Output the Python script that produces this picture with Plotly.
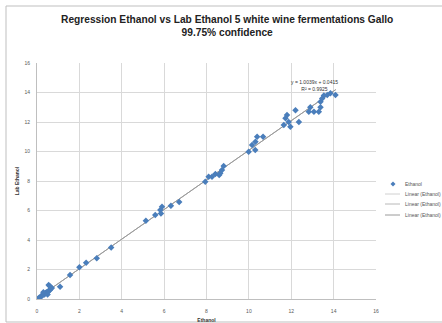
import plotly.graph_objects as go

# Reference ethanol (x) vs lab ethanol (y)
ethanol = [0.05, 0.1, 0.15, 0.2, 0.25, 0.3, 0.35, 0.4, 0.45, 0.5, 0.55, 0.6, 0.65, 0.7, 0.3, 0.5,
           0.55, 0.6, 1.09, 1.56, 2.0, 2.32, 2.82, 3.5, 5.14, 5.58, 5.82, 5.9, 5.85, 6.32, 6.71,
           7.94, 8.1, 8.26, 8.42, 8.6, 8.65, 8.73, 8.81, 9.99, 10.15, 10.3, 10.31, 10.39, 10.67,
           11.65, 11.73, 11.8, 11.88, 11.96, 12.2, 12.36, 12.83, 12.9, 13.07, 13.3, 13.38, 13.38,
           13.46, 13.54, 13.7, 13.85, 14.09]
lab_ethanol = [0.02, 0.08, 0.1, 0.2, 0.25, 0.3, 0.3, 0.4, 0.45, 0.45, 0.55, 0.6, 0.7, 0.75, 0.45, 0.3,
               0.95, 0.88, 0.83, 1.63, 2.15, 2.46, 2.76, 3.5, 5.31, 5.69, 6.03, 6.26, 5.8, 6.33, 6.58,
               7.95, 8.29, 8.29, 8.47, 8.4, 8.52, 8.75, 9.02, 9.99, 10.44, 10.1, 10.66, 11.0, 11.0,
               11.8, 12.25, 12.47, 12.0, 11.68, 12.8, 12.0, 12.7, 13.0, 12.7, 12.7, 13.0, 13.38,
               13.6, 13.8, 13.83, 13.95, 13.83]
slope = 1.0039
intercept = 0.0415
fit_x = [0.0, 14.1]
fit_y = [slope * v + intercept for v in fit_x]
x_ticks = [0, 2, 4, 6, 8, 10, 12, 14, 16]
y_ticks = [0, 2, 4, 6, 8, 10, 12, 14, 16]
legend_names = ["Ethanol", "Linear (Ethanol)", "Linear (Ethanol)", "Linear (Ethanol)"]
line_colors = ["#d0d0d0", "#b8b8b8", "#9a9a9a"]
marker_color = "#4a7ebb"

fig = go.Figure()
for col in line_colors:
    fig.add_trace(go.Scatter(x=fit_x, y=fit_y, mode="lines", showlegend=False,
                             line=dict(color=col, width=1)))
fig.add_trace(go.Scatter(x=ethanol, y=lab_ethanol, mode="markers", showlegend=False,
                         marker=dict(symbol="diamond", size=5, color=marker_color)))

# plot area in pixels: left 37, right 376, top 63, bottom 299
PL, PR, PT, PB = 37, 376, 63, 299
def px(xp):
    return (xp - PL) / (PR - PL)
def py(yp):
    return (PB - yp) / (PB - PT)

tick_font = dict(family="Liberation Sans", size=5, color="#595959")
fig.update_layout(
    width=442, height=323,
    margin=dict(l=PL, r=442 - PR, t=PT, b=323 - PB),
    paper_bgcolor="white", plot_bgcolor="white",
    showlegend=False,
    title=dict(text="<b>Regression Ethanol vs Lab Ethanol 5 white wine fermentations Gallo<br>99.75% confidence</b>",
               x=0.514, xanchor="center", y=0.929, yanchor="top",
               font=dict(family="Liberation Sans", size=10.2, color="#222222")),
    xaxis=dict(range=[0, 16], tickvals=x_ticks, showgrid=True, gridcolor="#d9d9d9",
               gridwidth=1, zeroline=False, showline=True, linecolor="#bfbfbf",
               ticks="", tickfont=tick_font, ticklabelstandoff=7, automargin=False,
               title=dict(text="<b>Ethanol</b>", standoff=10,
                          font=dict(family="Liberation Sans", size=5, color="#333333"))),
    yaxis=dict(range=[0, 16], tickvals=y_ticks, showgrid=True, gridcolor="#d9d9d9",
               gridwidth=1, zeroline=False, showline=True, linecolor="#bfbfbf",
               ticks="", tickfont=tick_font, ticklabelstandoff=5, automargin=False,
               title=dict(text="<b>Lab Ethanol</b>", standoff=4,
                          font=dict(family="Liberation Sans", size=5, color="#333333"))),
)
fig.add_annotation(x=13.1, y=14.45, xref="x", yref="y", showarrow=False,
                   text="y = 1.0039x + 0.0415<br>R² = 0.9925", align="center",
                   font=dict(family="Liberation Sans", size=5, color="#333333"))

# manual legend
leg_y = [184, 194, 204, 215]
for i, (name, yp) in enumerate(zip(legend_names, leg_y)):
    fig.add_annotation(x=px(403), y=py(yp), xref="paper", yref="paper", showarrow=False,
                       xanchor="left", yanchor="middle", text=name,
                       font=dict(family="Liberation Sans", size=5, color="#555555"))
    if i == 0:
        fig.add_shape(type="path", xref="paper", yref="paper", xsizemode="pixel",
                      ysizemode="pixel", xanchor=px(393), yanchor=py(yp),
                      path="M 0 2.5 L 2.5 0 L 0 -2.5 L -2.5 0 Z",
                      fillcolor=marker_color, line=dict(width=0))
    else:
        fig.add_shape(type="line", xref="paper", yref="paper", x0=px(385), x1=px(400),
                      y0=py(yp), y1=py(yp), line=dict(color=line_colors[i - 1], width=1))

fig.add_shape(type="rect", xref="paper", yref="paper", x0=px(6), x1=px(450), y0=py(322), y1=py(6),
              line=dict(color="#bfbfbf", width=1), fillcolor="rgba(0,0,0,0)", layer="below")

fig.write_html("out.html")
